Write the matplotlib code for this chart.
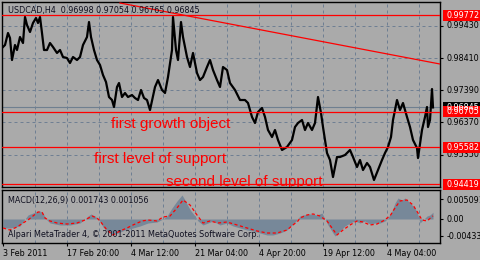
import matplotlib
matplotlib.use("Agg")
import matplotlib.pyplot as plt
from matplotlib.patches import Rectangle

# ---- data (bar index = 4h bars from 3 Feb 2011) ----
price_bars = [0, 2, 5, 7, 9, 12, 14, 17, 20, 22, 24, 27, 30, 33, 35, 37, 39, 41, 44, 47,
              50, 54, 57, 60, 64, 67, 70, 74, 77, 80, 84, 86, 88, 91, 94, 97, 100, 103, 106, 109,
              111, 114, 116, 119, 122, 125, 129, 132, 135, 138, 141, 144, 147, 152, 155, 159, 162, 165, 169, 170,
              173, 175, 178, 180, 184, 187, 190, 194, 197, 200, 204, 207, 210, 214, 217, 220, 224, 227, 232, 237,
              242, 245, 249, 252, 255, 259, 262, 265, 269, 272, 275, 279, 284, 289, 292, 295, 299, 302, 305, 309,
              312, 315, 318, 320, 324, 327, 330, 334, 337, 342, 347, 350, 354, 357, 360, 364, 367, 371, 375, 379,
              382, 385, 388, 390, 394, 397, 400, 404, 407, 410, 414, 415, 419, 422, 424, 425, 427, 429, 430]
price_close = [0.98759, 0.98822, 0.99202, 0.99044, 0.98347, 0.98822, 0.98664, 0.99075, 0.98885, 0.99709,
               0.99455, 0.99234, 0.99519, 0.99677, 0.99519, 0.99709, 0.99202, 0.98664, 0.98664, 0.98885,
               0.98759, 0.98569, 0.98664, 0.98442, 0.98410, 0.98252, 0.98442, 0.98347, 0.98442, 0.98822,
               0.99075, 0.99550, 0.99075, 0.98664, 0.98347, 0.98189, 0.97872, 0.97650, 0.97175, 0.97080,
               0.96858, 0.97492, 0.97618, 0.97175, 0.97302, 0.97175, 0.97238, 0.97143, 0.97080, 0.97397,
               0.97143, 0.97080, 0.96763, 0.97492, 0.97713, 0.97397, 0.97302, 0.97808, 0.98664, 0.99709,
               0.98664, 0.98347, 0.99550, 0.99075, 0.98442, 0.98125, 0.98569, 0.97935, 0.97713, 0.97808,
               0.98125, 0.98347, 0.98030, 0.97713, 0.97492, 0.98125, 0.98030, 0.97618, 0.97397, 0.97080,
               0.97080, 0.96985, 0.96542, 0.96352, 0.96700, 0.96827, 0.96542, 0.96130, 0.95908, 0.96130,
               0.95813, 0.95497, 0.95592, 0.95813, 0.96225, 0.96352, 0.96447, 0.96130, 0.96352, 0.96130,
               0.96352, 0.97175, 0.96668, 0.96225, 0.95402, 0.95180, 0.94641, 0.95275, 0.95275, 0.95338,
               0.95497, 0.95275, 0.94958, 0.95180, 0.94863, 0.95085, 0.94958, 0.94546, 0.94863, 0.95180,
               0.95402, 0.95592, 0.95908, 0.96447, 0.97080, 0.96763, 0.96985, 0.96542, 0.96225, 0.95813,
               0.95560, 0.95243, 0.96130, 0.96542, 0.96858, 0.96225, 0.96447, 0.97428, 0.96845]

levels = [0.99772, 0.96705, 0.95582, 0.94419]
current_price = 0.96845
trend_bars = [117, 437]
trend_prices = [1.00152, 0.98220]
price_ticks = [0.99430, 0.98410, 0.97390, 0.96370, 0.95350]
price_tick_labels = ["0.99430", "0.98410", "0.97390", "0.96370", "0.95350"]

macd_bars = [0, 7, 17, 22, 25, 30, 37, 40, 43, 47, 57, 67, 77, 82, 85, 88, 92, 96, 100, 105,
             110, 115, 122, 130, 137, 145, 154, 160, 164, 169, 174, 179, 182, 185, 188, 192, 195, 200, 205, 210,
             217, 224, 230, 237, 244, 250, 257, 264, 270, 277, 284, 289, 294, 297, 300, 307, 314, 319, 322, 325,
             330, 332, 337, 342, 347, 352, 357, 362, 367, 372, 377, 382, 385, 389, 392, 395, 399, 402, 407, 412,
             415, 417, 420, 424, 427, 430]
macd_main = [-0.00231, -0.00231, -0.00180, 0.0, 0.00103, 0.00154, 0.00206, 0.00154, 0.0, -0.00103,
             -0.00154, -0.00154, -0.00103, 0.0, 0.00077, 0.00129, 0.00077, -0.00026, -0.00206, -0.00334,
             -0.00411, -0.00360, -0.00283, -0.00231, -0.00180, -0.00103, -0.00077, 0.0, 0.00077, 0.00283,
             0.00463, 0.00617, 0.00488, 0.00334, 0.00206, 0.00077, -0.00051, -0.00154, -0.00103, -0.00051,
             -0.00154, -0.00103, -0.00180, -0.00231, -0.00283, -0.00308, -0.00360, -0.00411, -0.00411, -0.00360,
             -0.00283, -0.00154, -0.00026, 0.00077, 0.00103, 0.00129, 0.00103, 0.00154, 0.0, -0.00154,
             -0.00360, -0.00437, -0.00308, -0.00180, -0.00103, -0.00051, -0.00103, -0.00051, -0.00129, -0.00103,
             -0.00103, -0.00051, 0.00026, 0.00206, 0.00411, 0.00540, 0.00488, 0.00540, 0.00411, 0.00283,
             0.00103, -0.00103, -0.00026, 0.00077, 0.00103, 0.00174]

signal_bars = [0, 7, 14, 20, 25, 30, 35, 39, 42, 47, 54, 64, 74, 82, 89, 94, 97, 104, 110, 117,
               124, 130, 139, 145, 154, 160, 167, 174, 180, 187, 194, 200, 207, 215, 224, 234, 244, 254, 264, 274,
               284, 290, 295, 297, 304, 310, 317, 324, 329, 334, 340, 347, 354, 360, 367, 374, 380, 387, 392, 397,
               404, 410, 415, 419, 424, 430]
signal_vals = [-0.00231, -0.00283, -0.00206, -0.00103, -0.00026, 0.00077, 0.00180, 0.00180, 0.00026, -0.00051,
               -0.00103, -0.00129, -0.00103, -0.00026, 0.00077, 0.00026, -0.00051, -0.00283, -0.00411, -0.00308,
               -0.00231, -0.00154, -0.00051, -0.00026, -0.00051, 0.00051, 0.00077, 0.00283, 0.00488, 0.00360,
               0.00103, -0.00103, -0.00051, -0.00103, -0.00077, -0.00154, -0.00231, -0.00308, -0.00360, -0.00360,
               -0.00283, -0.00154, -0.00051, 0.00026, 0.00103, 0.00129, 0.00077, -0.00051, -0.00231, -0.00411,
               -0.00283, -0.00154, -0.00051, -0.00077, -0.00154, -0.00129, -0.00051, 0.00077, 0.00283, 0.00463,
               0.00488, 0.00360, 0.00154, -0.00026, -0.00051, 0.00080]
macd_ticks = [0.005091, 0.0, -0.00433]
macd_tick_labels = ["0.005091", "0.00", "-0.00433"]

date_bars = [0, 64, 128, 192, 256, 320, 384]
date_labels = ["3 Feb 2011", "17 Feb 20:00", "4 Mar 12:00", "21 Mar 04:00",
               "4 Apr 20:00", "19 Apr 12:00", "4 May 04:00"]
grid_bars = list(range(32, 437, 32))

# ---- style ----
bg = "#aaaaaa"
gridc = "#6f7f93"
histc = "#778899"
small = 5.8
W, H = 480.0, 260.0

fig = plt.figure(figsize=(4.8, 2.6), dpi=100)
fig.patch.set_facecolor(bg)

ax = fig.add_axes([2 / W, (H - 187) / H, 438 / W, 185 / H])
mx = fig.add_axes([2 / W, (H - 243) / H, 438 / W, 53 / H])

for a in (ax, mx):
    a.set_facecolor(bg)
    a.set_xlim(-1, 437)
    for s in a.spines.values():
        s.set_color("black")
        s.set_linewidth(1.0)
    for gb in grid_bars:
        a.axvline(gb, color=gridc, lw=0.72, ls=(0, (3, 3)), zorder=1)

# main price panel
ax.set_ylim(0.94325, 1.00184)
for p in price_ticks:
    ax.axhline(p, color=gridc, lw=0.72, ls=(0, (3, 3)), zorder=1)
ax.axhline(current_price, color="#6f7f90", lw=0.8, zorder=1.5)
ax.plot(price_bars, price_close, color="black", lw=1.6, zorder=3)
for lv in levels:
    ax.axhline(lv, color="red", lw=0.9, zorder=4)
ax.plot(trend_bars, trend_prices, color="red", lw=0.9, zorder=4)

ax.set_xticks([])
ax.yaxis.tick_right()
ax.set_yticks(price_ticks)
ax.set_yticklabels([])
ax.tick_params(axis="y", length=2.5, width=0.8, color="black")

ax.text(0.0137, 0.954, "USDCAD,H4  0.96998 0.97054 0.96765 0.96845", transform=ax.transAxes,
        fontsize=small, color="#101020", va="center", ha="left", zorder=6)

ax.text(108, 0.96193, "first growth object", family="Liberation Sans", fontsize=11,
        color="red", va="baseline", ha="left", zorder=5)
ax.text(91, 0.95085, "first level of support", family="Liberation Sans", fontsize=11,
        color="red", va="baseline", ha="left", zorder=5)
ax.text(163, 0.94356, "second level of support", family="Liberation Sans", fontsize=11,
        color="red", va="baseline", ha="left", zorder=5, clip_on=True)

ytr = ax.get_yaxis_transform()
for p, lab in zip(price_ticks, price_tick_labels):
    ax.text(1.0137, p, lab, transform=ytr, fontsize=small, color="black",
            va="center", ha="left", clip_on=False, zorder=5)

box_h = 11 * 0.0003167
boxes = [(current_price, "black")] + [(lv, "red") for lv in levels]
for p, c in boxes:
    ax.add_patch(Rectangle((1 + 3 / 438, p - box_h / 2), 38 / 438, box_h, transform=ytr,
                           facecolor=c, edgecolor="none", clip_on=False, zorder=6))
    ax.text(1.0137, p, "%.5f" % p, transform=ytr, fontsize=small, color="white",
            va="center", ha="left", clip_on=False, zorder=7)

# MACD panel
mx.set_ylim(-0.006168, 0.007453)
mx.fill_between(macd_bars, macd_main, 0, color=histc, lw=0, zorder=2)
mx.plot(signal_bars, signal_vals, color="red", lw=0.9, ls=(0, (2.5, 2)), zorder=3)
mx.yaxis.tick_right()
mx.set_yticks(macd_ticks)
mx.set_yticklabels(macd_tick_labels, fontsize=small)
mx.tick_params(axis="y", length=2.5, width=0.8, pad=2)
mx.set_xticks(date_bars)
mx.set_xticklabels(date_labels, fontsize=small, ha="left")
mx.tick_params(axis="x", length=2.5, width=0.8, pad=1.5)

mx.text(0.0137, 0.7925, "MACD(12,26,9) 0.001743 0.001056", transform=mx.transAxes,
        fontsize=small, color="#101020", va="center", ha="left", zorder=6)
mx.text(0.0137, 0.157, "Alpari MetaTrader 4, \u00a9 2001-2011 MetaQuotes Software Corp.",
        transform=mx.transAxes, fontsize=small, color="#101020", va="center", ha="left", zorder=6)

fig.savefig("out.png", dpi=100, facecolor=bg)
